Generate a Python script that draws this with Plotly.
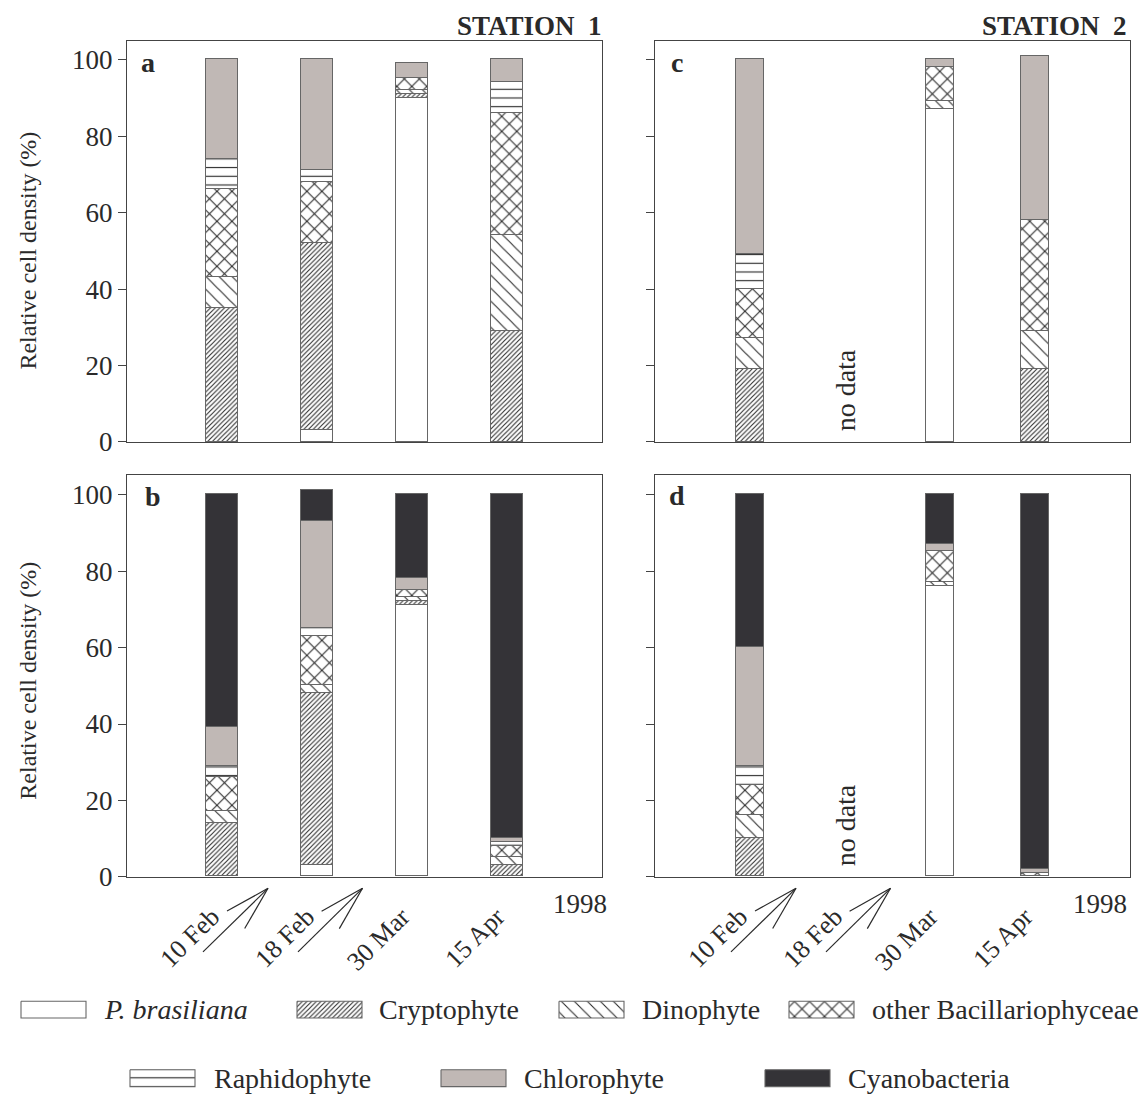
import math
import plotly.graph_objects as go

W, H = 1146, 1108

# ---------------- data ----------------
dates = ["10 Feb", "18 Feb", "30 Mar", "15 Apr"]
date_pos = [1, 2, 3, 4]
y_ticks = [0, 20, 40, 60, 80, 100]
groups = ["P. brasiliana", "Cryptophyte", "Dinophyte", "other Bacillariophyceae",
          "Raphidophyte", "Chlorophyte", "Cyanobacteria"]

# panel a : Station 1 (without cyanobacteria)
a_p_brasiliana = [0, 3, 90, 0]
a_cryptophyte = [35, 49, 1, 29]
a_dinophyte = [8, 0, 1, 25]
a_bacillariophyceae = [23, 16, 3, 32]
a_raphidophyte = [8, 3, 0, 8]
a_chlorophyte = [26, 29, 4, 6]

# panel b : Station 1 (with cyanobacteria)
b_p_brasiliana = [0, 3, 71, 0]
b_cryptophyte = [14, 45, 1, 3]
b_dinophyte = [3, 2, 1, 2]
b_bacillariophyceae = [9, 13, 2, 3]
b_raphidophyte = [3, 2, 0, 1]
b_chlorophyte = [10, 28, 3, 1]
b_cyanobacteria = [61, 8, 22, 90]

# panel c : Station 2 (without cyanobacteria), 18 Feb = no data
c_p_brasiliana = [0, None, 87, 0]
c_cryptophyte = [19, None, 0, 19]
c_dinophyte = [8, None, 2, 10]
c_bacillariophyceae = [13, None, 9, 29]
c_raphidophyte = [9, None, 0, 0]
c_chlorophyte = [51, None, 2, 43]

# panel d : Station 2 (with cyanobacteria), 18 Feb = no data
d_p_brasiliana = [0, None, 76, 0]
d_cryptophyte = [10, None, 0, 0]
d_dinophyte = [6, None, 1, 0]
d_bacillariophyceae = [8, None, 8, 1]
d_raphidophyte = [5, None, 0, 0]
d_chlorophyte = [31, None, 2, 1]
d_cyanobacteria = [40, None, 13, 98]

panel_series = {
    "a": [a_p_brasiliana, a_cryptophyte, a_dinophyte, a_bacillariophyceae,
          a_raphidophyte, a_chlorophyte, None],
    "b": [b_p_brasiliana, b_cryptophyte, b_dinophyte, b_bacillariophyceae,
          b_raphidophyte, b_chlorophyte, b_cyanobacteria],
    "c": [c_p_brasiliana, c_cryptophyte, c_dinophyte, c_bacillariophyceae,
          c_raphidophyte, c_chlorophyte, None],
    "d": [d_p_brasiliana, d_cryptophyte, d_dinophyte, d_bacillariophyceae,
          d_raphidophyte, d_chlorophyte, d_cyanobacteria],
}

# ---------------- styles ----------------
FONT = "Liberation Serif, Times New Roman, serif"
TXT = "#2a2a2a"
EDGE = "#666666"
FRAME = "#444444"
PAT_FG = "#2a2a2a"

styles = {
    "P. brasiliana": dict(color="white", pattern=None),
    "Cryptophyte": dict(color="white", pattern=dict(shape="/", size=3.3, solidity=0.32)),
    "Dinophyte": dict(color="white", pattern=dict(shape="\\", size=9.2, solidity=0.12)),
    "other Bacillariophyceae": dict(color="white", pattern=dict(shape="x", size=10.6, solidity=0.19)),
    "Raphidophyte": dict(color="white", pattern=dict(shape="-", size=8.7, solidity=0.13)),
    "Chlorophyte": dict(color="#c0b8b5", pattern=None),
    "Cyanobacteria": dict(color="#343337", pattern=None),
}

# panel geometry in pixels (left, right, top, bottom), y max, bar width, axis ids
panels = {
    "a": dict(l=127, r=602, t=42, b=448, ymax=104.8, bw=0.33, xa="x", ya="y", labels=False, ylab=True),
    "b": dict(l=127, r=602, t=482, b=889, ymax=105.0, bw=0.33, xa="x2", ya="y2", labels=True, ylab=True),
    "c": dict(l=655, r=1130, t=42, b=448, ymax=104.8, bw=0.29, xa="x3", ya="y3", labels=False, ylab=False),
    "d": dict(l=655, r=1130, t=482, b=889, ymax=105.0, bw=0.29, xa="x4", ya="y4", labels=True, ylab=False),
}


def px(x):
    return x / W


def py(y):
    return 1 - y / H


fig = go.Figure()

for key, p in panels.items():
    for g, vals in zip(groups, panel_series[key]):
        if vals is None:
            continue
        st = styles[g]
        marker = dict(color=st["color"], line=dict(color=EDGE, width=1.1))
        if st["pattern"] is not None:
            marker["pattern"] = dict(fgcolor=PAT_FG, bgcolor="white", fillmode="replace", **st["pattern"])
        fig.add_trace(go.Bar(x=date_pos, y=vals, width=p["bw"], marker=marker, name=g,
                             xaxis=p["xa"], yaxis=p["ya"], showlegend=False, hoverinfo="skip"))

layout_axes = {}
for i, (key, p) in enumerate(panels.items()):
    n = "" if i == 0 else str(i + 1)
    layout_axes["xaxis" + n] = dict(
        domain=[px(p["l"]), px(p["r"])], range=[0, 5], anchor="y" + n,
        tickvals=date_pos, ticktext=dates, showticklabels=p["labels"], ticks="",
        tickangle=-45, ticklabelstandoff=13, ticklabelshift=-10,
        tickfont=dict(family=FONT, size=26, color=TXT),
        showline=True, mirror=True, linecolor=FRAME, linewidth=1.3,
        showgrid=False, zeroline=False, fixedrange=True)
    layout_axes["yaxis" + n] = dict(
        domain=[py(p["b"]), py(p["t"])], range=[0, p["ymax"]], anchor="x" + n,
        tickvals=y_ticks, showticklabels=p["ylab"], ticks="outside", ticklen=8,
        tickwidth=1.2, tickcolor=FRAME,
        tickfont=dict(family=FONT, size=27, color=TXT),
        showline=True, mirror=True, linecolor=FRAME, linewidth=1.3,
        showgrid=False, zeroline=False, fixedrange=True)

# legend axis (pixel space)
layout_axes["xaxis5"] = dict(domain=[0, 1], range=[0, W], anchor="y5", visible=False, fixedrange=True)
layout_axes["yaxis5"] = dict(domain=[0, py(1000)], range=[H, 1000], anchor="x5", visible=False, fixedrange=True)

legend_rows = [1023.5, 1093]
legend_items = [  # (group, row, swatch x, text x)
    ("P. brasiliana", 0, 21, 102),
    ("Cryptophyte", 0, 297, 377),
    ("Dinophyte", 0, 559, 640),
    ("other Bacillariophyceae", 0, 789, 870),
    ("Raphidophyte", 1, 130, 212),
    ("Chlorophyte", 1, 441, 522),
    ("Cyanobacteria", 1, 765, 846),
]
SW, SH = 65, 17
annotations = []
for g, row, sx, tx in legend_items:
    st = styles[g]
    yc = legend_rows[row]
    kw = dict(x=[sx, sx + SW, sx + SW, sx, sx], y=[yc - SH / 2, yc - SH / 2, yc + SH / 2, yc + SH / 2, yc - SH / 2],
              mode="lines", fill="toself", fillcolor=st["color"], line=dict(color=EDGE, width=1.1),
              xaxis="x5", yaxis="y5", showlegend=False, hoverinfo="skip")
    if st["pattern"] is not None:
        kw["fillpattern"] = dict(fgcolor=PAT_FG, bgcolor="white", fillmode="replace", **st["pattern"])
    fig.add_trace(go.Scatter(**kw))
    label = "<i>P. brasiliana</i>" if g == "P. brasiliana" else g
    annotations.append(dict(x=px(tx), y=py(yc), xref="paper", yref="paper", text=label, showarrow=False,
                            xanchor="left", yanchor="middle", font=dict(family=FONT, size=28, color=TXT)))

# titles
for txt, xr in [("STATION\u00a0\u00a01", 604), ("STATION\u00a0\u00a02", 1129)]:
    annotations.append(dict(x=px(xr), y=py(26), xref="paper", yref="paper", text="<b>%s</b>" % txt,
                            showarrow=False, xanchor="right", yanchor="middle",
                            font=dict(family=FONT, size=27, color=TXT)))
# panel letters
for letter, (lx, ly) in zip("abcd", [(139, 63), (143, 503), (669, 63), (667, 502)]):
    annotations.append(dict(x=px(lx), y=py(ly), xref="paper", yref="paper", text="<b>%s</b>" % letter,
                            showarrow=False, xanchor="left", yanchor="middle",
                            font=dict(family=FONT, size=28, color=TXT)))
# y titles
for yc in [254, 690]:
    annotations.append(dict(x=px(28), y=py(yc), xref="paper", yref="paper", text="Relative cell density (%)",
                            showarrow=False, textangle=-90, xanchor="center", yanchor="middle",
                            font=dict(family=FONT, size=24, color=TXT)))
# no data
for ya in ["y3", "y4"]:
    annotations.append(dict(x=2, y=13.5, xref=ya.replace("y", "x"), yref=ya, text="no data", showarrow=False,
                            textangle=-90, xanchor="center", yanchor="middle",
                            font=dict(family=FONT, size=28, color=TXT)))
# 1998
for xc in [580, 1100]:
    annotations.append(dict(x=px(xc), y=py(916), xref="paper", yref="paper", text="1998", showarrow=False,
                            xanchor="center", yanchor="middle", font=dict(family=FONT, size=27, color=TXT)))

# arrows (open-headed) below panels b and d
shapes = []
arrow_offsets = [((76, 965), (141, 900.5)), ((171, 965), (235.5, 900.5))]
for left in [127, 655]:
    for (sx, sy), (tx, ty) in arrow_offsets:
        x0, y0, x1, y1 = left + sx, sy, left + tx, ty
        shapes.append(dict(type="line", xref="paper", yref="paper", x0=px(x0), y0=py(y0), x1=px(x1), y1=py(y1),
                           line=dict(color=TXT, width=1.2)))
        ang = math.atan2(y0 - y1, x0 - x1)
        for da in (-0.27, 0.27):
            hx = x1 + 47 * math.cos(ang + da)
            hy = y1 + 47 * math.sin(ang + da)
            shapes.append(dict(type="line", xref="paper", yref="paper", x0=px(x1), y0=py(y1), x1=px(hx), y1=py(hy),
                               line=dict(color=TXT, width=1.2)))

fig.update_layout(
    width=W, height=H, autosize=False, margin=dict(l=0, r=0, t=0, b=0, pad=0),
    paper_bgcolor="white", plot_bgcolor="white",
    barmode="stack", bargap=0, showlegend=False,
    annotations=annotations, shapes=shapes,
    font=dict(family=FONT, color=TXT),
    **layout_axes,
)

fig.write_html("out.html",
               config={"responsive": False, "displayModeBar": False},
               post_script="document.body.style.margin='0px';document.body.style.padding='0px';"
                           "document.body.style.overflow='hidden';")
